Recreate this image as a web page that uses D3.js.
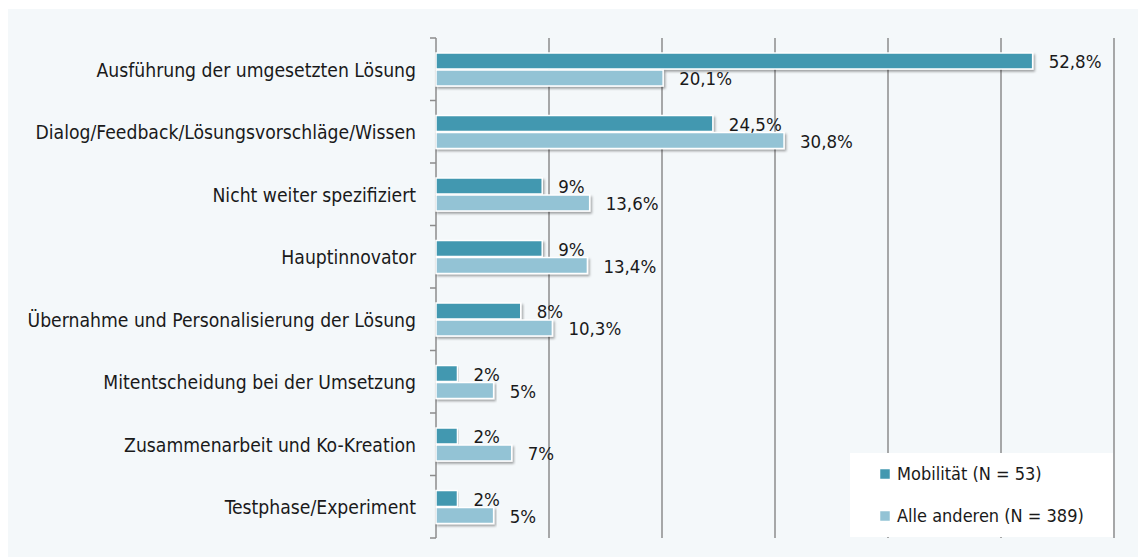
<!DOCTYPE html>
<html>
<head>
<meta charset="utf-8">
<script src="https://cdn.jsdelivr.net/npm/d3@7"></script>
<style>
  body { margin: 0; background: #ffffff; }
  svg text { font-family: "Liberation Sans Narrow", "Arial Narrow", "DejaVu Sans Condensed", sans-serif; fill: #1a1a1a; }
</style>
</head>
<body>
<div id="chart"></div>
<script>
// data
const categories = [
  "Ausführung der umgesetzten Lösung",
  "Dialog/Feedback/Lösungsvorschläge/Wissen",
  "Nicht weiter spezifiziert",
  "Hauptinnovator",
  "Übernahme und Personalisierung der Lösung",
  "Mitentscheidung bei der Umsetzung",
  "Zusammenarbeit und Ko-Kreation",
  "Testphase/Experiment"
];
const seriesNames = ["Mobilität (N = 53)", "Alle anderen (N = 389)"];
const mobilitaet = [52.8, 24.5, 9.4, 9.4, 7.5, 1.9, 1.9, 1.9];
const alleAnderen = [20.1, 30.8, 13.6, 13.4, 10.3, 5.1, 6.7, 5.1];
const mobilitaetLabels = ["52,8%", "24,5%", "9%", "9%", "8%", "2%", "2%", "2%"];
const alleAnderenLabels = ["20,1%", "30,8%", "13,6%", "13,4%", "10,3%", "5%", "7%", "5%"];
const gridTicks = [10, 20, 30, 40, 50, 60];

const width = 1138, height = 557;
const margin = { top: 38, bottom: 19, left: 436, right: 24 };
const colors = ["#4398b0", "#93c3d5"];

const svg = d3.select("#chart").append("svg")
  .attr("width", width)
  .attr("height", height);

// soft drop shadow under bars
const defs = svg.append("defs");
const shadow = defs.append("filter").attr("id", "shadow")
  .attr("x", "-5%").attr("y", "-40%").attr("width", "110%").attr("height", "200%");
shadow.append("feDropShadow")
  .attr("dx", 1.5).attr("dy", 2).attr("stdDeviation", 1.3)
  .attr("flood-color", "#000").attr("flood-opacity", 0.35);

// panel background
svg.append("rect")
  .attr("x", 8).attr("y", 9)
  .attr("width", width - 8).attr("height", height - 9)
  .attr("fill", "#f4f8fa");

const x = d3.scaleLinear()
  .domain([0, 60])
  .range([margin.left, width - margin.right]);

const y = d3.scaleBand()
  .domain(categories)
  .range([margin.top, height - margin.bottom]);

const ySub = d3.scaleBand()
  .domain(seriesNames)
  .range([15, 48])
  .paddingInner(0.06);

// gridlines
svg.append("g")
  .selectAll("line")
  .data(gridTicks)
  .join("line")
  .attr("x1", d => x(d)).attr("x2", d => x(d))
  .attr("y1", margin.top).attr("y2", height - margin.bottom)
  .attr("stroke", "#8c8c8c")
  .attr("stroke-width", 1.5);

// left axis with ticks at band edges
const yAxisG = svg.append("g");
yAxisG.append("line")
  .attr("x1", margin.left).attr("x2", margin.left)
  .attr("y1", margin.top).attr("y2", height - margin.bottom)
  .attr("stroke", "#8c8c8c").attr("stroke-width", 1.5);
const edges = categories.map(c => y(c)).concat([y.range()[1]]);
yAxisG.selectAll("line.tick")
  .data(edges)
  .join("line")
  .attr("class", "tick")
  .attr("x1", margin.left - 6).attr("x2", margin.left)
  .attr("y1", d => d).attr("y2", d => d)
  .attr("stroke", "#8c8c8c").attr("stroke-width", 1.5);

// category labels
svg.append("g")
  .selectAll("text")
  .data(categories)
  .join("text")
  .attr("x", margin.left - 20)
  .attr("y", d => y(d) + y.bandwidth() / 2 + 1)
  .attr("dy", "0.35em")
  .attr("text-anchor", "end")
  .attr("font-size", 19.2)
  .text(d => d);

const rows = categories.map((c, i) => ({
  cat: c,
  vals: [
    { s: seriesNames[0], v: mobilitaet[i], label: mobilitaetLabels[i], color: colors[0] },
    { s: seriesNames[1], v: alleAnderen[i], label: alleAnderenLabels[i], color: colors[1] }
  ]
}));

const groups = svg.append("g")
  .selectAll("g")
  .data(rows)
  .join("g")
  .attr("transform", d => `translate(0,${y(d.cat)})`);

groups.selectAll("rect")
  .data(d => d.vals)
  .join("rect")
  .attr("x", x(0))
  .attr("y", d => ySub(d.s))
  .attr("width", d => x(d.v) - x(0))
  .attr("height", ySub.bandwidth())
  .attr("fill", d => d.color)
  .attr("stroke", "#ffffff")
  .attr("stroke-width", 1.5)
  .attr("filter", "url(#shadow)");

groups.selectAll("text")
  .data(d => d.vals)
  .join("text")
  .attr("x", d => x(d.v) + 16)
  .attr("y", d => ySub(d.s) + ySub.bandwidth() / 2 + 1)
  .attr("dy", "0.35em")
  .attr("font-size", 18.5)
  .text(d => d.label);

// legend
const legend = svg.append("g").attr("transform", "translate(850,453)");
legend.append("rect")
  .attr("width", 263).attr("height", 84)
  .attr("fill", "#ffffff");
const items = legend.selectAll("g")
  .data(seriesNames)
  .join("g")
  .attr("transform", (d, i) => `translate(30,${21 + i * 42})`);
items.append("rect")
  .attr("y", -5).attr("width", 10).attr("height", 10)
  .attr("fill", (d, i) => colors[i])
  .attr("stroke", "#ffffff").attr("stroke-width", 0.5);
items.append("text")
  .attr("x", 17)
  .attr("dy", "0.35em")
  .attr("font-size", 18)
  .text(d => d);
</script>
</body>
</html>
